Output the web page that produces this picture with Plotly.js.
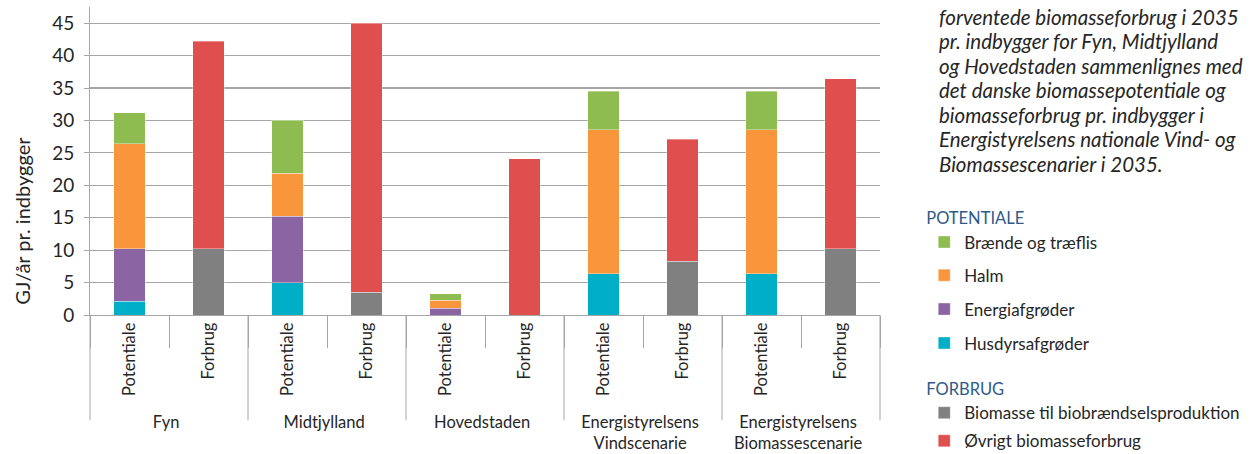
<!DOCTYPE html>
<html>
<head>
<meta charset="utf-8">
<script src="https://cdn.plot.ly/plotly-3.0.1.min.js"></script>
<style>html,body{margin:0;padding:0;background:#fff}#chart{width:1256px;height:454px}</style>
</head>
<body>
<div id="chart"></div>
<script>
// ---- data ----
const regions = ['Fyn', 'Midtjylland', 'Hovedstaden', 'Energistyrelsens<br>Vindscenarie', 'Energistyrelsens<br>Biomassescenarie'];
const kinds = ['Potentiale', 'Forbrug'];
// Potentiale (GJ/år pr. indbygger)
const husdyrsafgroeder = [2.1, 5.0, 0, 6.4, 6.4];
const energiafgroeder = [8.1, 10.2, 1.05, 0, 0];
const halm = [16.2, 6.7, 1.2, 22.2, 22.2];
const braende = [4.8, 8.1, 1.0, 5.9, 5.9];
// Forbrug (GJ/år pr. indbygger)
const biobraendsel = [10.2, 3.5, 0, 8.3, 10.2];
const oevrigt = [32.0, 41.5, 24.1, 18.8, 26.2];
const yTicks = [0, 5, 10, 15, 20, 25, 30, 35, 40, 45];
const noteLines = [
  'forventede biomasseforbrug i 2035',
  'pr. indbygger for Fyn, Midtjylland',
  'og Hovedstaden sammenlignes med',
  'det danske biomassepotentiale og',
  'biomasseforbrug pr. indbygger i',
  'Energistyrelsens nationale Vind- og',
  'Biomassescenarier i 2035.'
];

// ---- build multicategory x ----
const outer = [], inner = [];
regions.forEach(r => kinds.forEach(k => { outer.push(r); inner.push(k); }));
function place(vals, kind) {
  const out = [];
  regions.forEach((r, i) => kinds.forEach(k => out.push(k === kind ? vals[i] : null)));
  return out;
}

const FONT = "Lato, 'Open Sans', sans-serif";
const series = [
  {name: 'Husdyrsafgrøder', vals: husdyrsafgroeder, kind: 'Potentiale', color: '#00AEC7', legend: 'legend4'},
  {name: 'Energiafgrøder', vals: energiafgroeder, kind: 'Potentiale', color: '#8A64A3', legend: 'legend3'},
  {name: 'Halm', vals: halm, kind: 'Potentiale', color: '#F9963B', legend: 'legend2'},
  {name: 'Brænde og træflis', vals: braende, kind: 'Potentiale', color: '#8FBC51', legend: 'legend'},
  {name: 'Biomasse til biobrændselsproduktion', vals: biobraendsel, kind: 'Forbrug', color: '#808080', legend: 'legend5'},
  {name: 'Øvrigt biomasseforbrug', vals: oevrigt, kind: 'Forbrug', color: '#DE4F4D', legend: 'legend6'}
];
const traces = series.map(s => ({
  type: 'bar',
  name: s.name,
  x: [outer, inner],
  y: place(s.vals, s.kind),
  marker: {color: s.color, line: {color: 'rgba(255,255,255,0.6)', width: 0.6}},
  legend: s.legend,
  hoverinfo: 'name+y'
}));

const legBase = {
  xanchor: 'left', x: 1.056, bgcolor: 'rgba(0,0,0,0)', borderwidth: 0,
  font: {family: FONT, size: 17, color: '#262626'}, itemclick: false, itemdoubleclick: false
};
function leg(y, title) {
  const o = Object.assign({}, legBase, {y: y, yanchor: 'middle'});
  if (title) o.title = {text: title, side: 'top', font: {family: FONT, size: 16.5, color: '#2F5A88'}};
  return o;
}

const noteY = [0.9676, 0.8882, 0.8088, 0.7293, 0.6499, 0.5705, 0.4911];
const annotations = noteLines.map((t, i) => ({
  xref: 'paper', yref: 'paper', x: 1.072, y: noteY[i], xanchor: 'left', yanchor: 'middle',
  align: 'left', showarrow: false, text: t,
  font: {family: FONT, size: 20.5, style: 'italic', color: '#262626'}
}));
annotations.push({
  xref: 'paper', yref: 'paper', x: -0.0861, y: 0.306, xanchor: 'center', yanchor: 'middle',
  textangle: -90, showarrow: false, text: 'GJ/år pr. indbygger',
  font: {family: FONT, size: 20, color: '#262626'}
});

// group divider lines (decoration) at the boundaries between the outer categories
const shapes = [];
for (let i = 0; i <= regions.length; i++) {
  shapes.push({
    type: 'line', xref: 'paper', yref: 'paper',
    x0: i / regions.length, x1: i / regions.length, y0: 0, y1: -0.342,
    line: {color: '#A6A6A6', width: 1}
  });
}

const layout = {
  width: 1256, height: 454,
  margin: {l: 90, r: 376, t: 7, b: 138.5, autoexpand: false},
  paper_bgcolor: '#fff', plot_bgcolor: '#fff',
  barmode: 'stack',
  bargap: 0.6,
  font: {family: FONT, color: '#262626'},
  showlegend: true,
  legend: leg(0.271, 'POTENTIALE'),
  legend2: leg(0.128),
  legend3: leg(0.0178),
  legend4: leg(-0.0924),
  legend5: leg(-0.283, 'FORBRUG'),
  legend6: leg(-0.41),
  xaxis: {
    type: 'multicategory',
    tickangle: -90,
    tickson: 'boundaries',
    ticks: 'outside', ticklen: 32, tickcolor: '#A6A6A6', tickwidth: 1,
    showline: true, linecolor: '#A6A6A6', linewidth: 1,
    showdividers: false,
    tickfont: {family: FONT, size: 16.5, color: '#262626'},
    showgrid: false,
    automargin: false
  },
  yaxis: {
    range: [0, 47.5],
    tickvals: yTicks,
    ticktext: yTicks.map(String),
    showgrid: true, gridcolor: '#A6A6A6', gridwidth: 1.2,
    zeroline: false,
    showline: true, linecolor: '#A6A6A6', linewidth: 1,
    ticks: 'outside', ticklen: 5, tickcolor: '#A6A6A6',
    ticklabelstandoff: 6,
    tickfont: {family: FONT, size: 19, color: '#262626'},
    automargin: false
  },
  shapes: shapes,
  annotations: annotations
};

Plotly.newPlot('chart', traces, layout, {displayModeBar: false, staticPlot: true});
</script>
</body>
</html>
